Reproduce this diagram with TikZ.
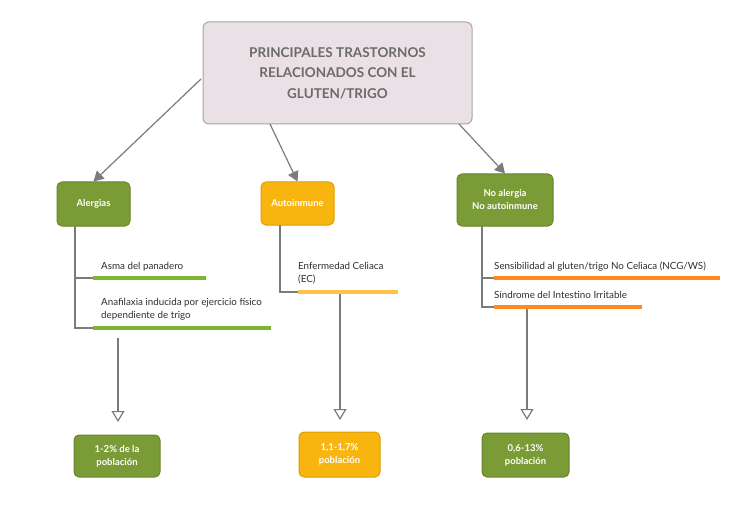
\documentclass[tikz,border=0pt]{standalone}
\usepackage{fontspec}
\setmainfont{Lato}
\usetikzlibrary{arrows.meta}
\definecolor{lineg}{HTML}{7B7B7B}
\definecolor{mainfill}{HTML}{E9E1E6}
\definecolor{mainborder}{HTML}{A8A4A8}
\definecolor{titlec}{HTML}{6B6B6B}
\definecolor{olive}{HTML}{7A9B35}
\definecolor{olived}{HTML}{66862A}
\definecolor{amber}{HTML}{F8B510}
\definecolor{amberd}{HTML}{E09E00}
\definecolor{barg}{HTML}{7DB72F}
\definecolor{bary}{HTML}{FFC24A}
\definecolor{baro}{HTML}{FF8A1E}
\definecolor{txt}{HTML}{2E2E2E}
\tikzset{
  catbox/.style={draw, line width=1pt, rounded corners=5pt, align=center, text=white,
    font=\fontsize{9.5}{13}\selectfont\bfseries, inner sep=0pt},
  greenbox/.style={catbox, fill=olive, draw=olived},
  amberbox/.style={catbox, fill=amber, draw=amberd},
  mainbox/.style={draw=mainborder, fill=mainfill, line width=1pt, rounded corners=6pt,
    align=center, text=titlec, font=\fontsize{13.5}{20.5}\selectfont\bfseries,
    minimum width=269pt, minimum height=102pt},
  arr/.style={draw=lineg, line width=1.2pt, -{Triangle[length=10pt,width=11pt]}},
  branch/.style={draw=lineg, line width=1.2pt},
  downarr/.style={draw=lineg, line width=1.2pt, -{Triangle[open,length=11pt,width=13pt,fill=white]}},
  bar/.style={line width=4pt},
  lbl/.style={anchor=base west, inner sep=0pt, text=txt, font=\fontsize{9.8}{13}\selectfont, align=left}
}
\begin{document}
\begin{tikzpicture}[x=1pt,y=-1pt]
\useasboundingbox (0,0) rectangle (735,529);
% main
\node[mainbox] (main) at (337.5,73) {PRINCIPALES TRASTORNOS\\RELACIONADOS CON EL\\GLUTEN/TRIGO};
% categories
\node[greenbox, minimum width=73pt, minimum height=44pt] (alerg) at (93.5,204) {Alergias};
\node[amberbox, minimum width=73pt, minimum height=43pt] (auto) at (297.5,203.5) {Autoinmune};
\node[greenbox, minimum width=96pt, minimum height=52pt] (noal) at (505,200) {No alergia\\No autoinmune};
% main arrows
\coordinate (m1) at (201,79);
\coordinate (m2) at (270,124);
\coordinate (m3) at (459,124);
\draw[arr] (m1) -- (alerg.north);
\draw[arr] (m2) -- (auto.north);
\draw[arr] (m3) -- (noal.north);
% Alergias branch
\coordinate (a0) at (75,226);
\coordinate (a1) at (75,278);
\coordinate (a2) at (75,328);
\coordinate (ab1s) at (93,278); \coordinate (ab1e) at (206,278);
\coordinate (ab2s) at (93,328); \coordinate (ab2e) at (271,328);
\draw[branch] (a0) -- (a2) -- (ab2s);
\draw[branch] (a1) -- (ab1s);
\draw[bar, barg] (ab1s) -- (ab1e);
\draw[bar, barg] (ab2s) -- (ab2e);
\node[lbl] (asma) at (101,269) {Asma del panadero};
\node[lbl] (anaf) at (101,318) {Anafilaxia inducida por ejercicio físico\\dependiente de trigo};
% Autoinmune branch
\coordinate (b0) at (280,225);
\coordinate (b1) at (280,292);
\coordinate (bbs) at (298,292); \coordinate (bbe) at (398,292);
\draw[branch] (b0) -- (b1) -- (bbs);
\draw[bar, bary] (bbs) -- (bbe);
\node[lbl] (ec) at (298,282) {Enfermedad Celiaca\\(EC)};
% No alergia branch
\coordinate (c0) at (482,226);
\coordinate (c1) at (482,278);
\coordinate (c2) at (482,307);
\coordinate (cb1s) at (494,278); \coordinate (cb1e) at (720,278);
\coordinate (cb2s) at (494,307); \coordinate (cb2e) at (642,307);
\draw[branch] (c0) -- (c2) -- (cb2s);
\draw[branch] (c1) -- (cb1s);
\draw[bar, baro] (cb1s) -- (cb1e);
\draw[bar, baro] (cb2s) -- (cb2e);
\node[lbl] (ncg) at (494,269) {Sensibilidad al gluten/trigo No Celiaca (NCG/WS)};
\node[lbl] (sii) at (494,298) {Síndrome del Intestino Irritable};
% bottom boxes
\node[greenbox, minimum width=86pt, minimum height=42pt] (p1) at (117,456) {1-2\% de la\\población};
\node[amberbox, minimum width=81pt, minimum height=45pt] (p2) at (339.5,454.5) {1,1-1,7\%\\población};
\node[greenbox, minimum width=87pt, minimum height=44pt] (p3) at (525.5,455) {0,6-13\%\\población};
% down arrows
\coordinate (d1s) at (118,338); \coordinate (d1e) at (118,422);
\coordinate (d2s) at (340,294); \coordinate (d2e) at (340,420);
\coordinate (d3s) at (527,309); \coordinate (d3e) at (527,420);
\draw[downarr] (d1s) -- (d1e);
\draw[downarr] (d2s) -- (d2e);
\draw[downarr] (d3s) -- (d3e);
\end{tikzpicture}
\end{document}
